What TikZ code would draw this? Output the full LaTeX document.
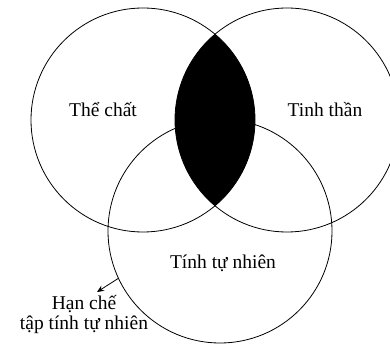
\documentclass[tikz,border=0pt]{standalone}
\usepackage{fontspec}
\setmainfont{Liberation Serif}
\usetikzlibrary{arrows.meta}
\begin{document}
\begin{tikzpicture}[x=1pt,y=-1pt,
  ring/.style={circle, draw=black, line width=0.8pt, minimum size=224pt, inner sep=0pt},
  lbl/.style={font=\fontsize{19.5}{22}\selectfont, inner sep=0pt, align=center}]
\useasboundingbox (0,0) rectangle (390,344);
\node[ring] (L) at (143,120) {};
\node[ring] (R) at (287,120) {};
\node[ring] (B) at (220,231) {};
\begin{scope}
  \clip (143,120) circle (112pt);
  \fill[black] (287,120) circle (112pt);
\end{scope}
\node[lbl] (t1) at (103,110) {Thể chất};
\node[lbl] (t2) at (325,110) {Tinh thần};
\node[lbl] (t3) at (223,263) {Tính tự nhiên};
\node[lbl] (t4) at (84,315) {Hạn chế\\[-2pt]tập tính tự nhiên};
\coordinate (tip) at (97,292);
\draw[line width=0.8pt, -{Stealth[length=7pt,width=6pt]}] (B.205) -- (tip);
\end{tikzpicture}
\end{document}
